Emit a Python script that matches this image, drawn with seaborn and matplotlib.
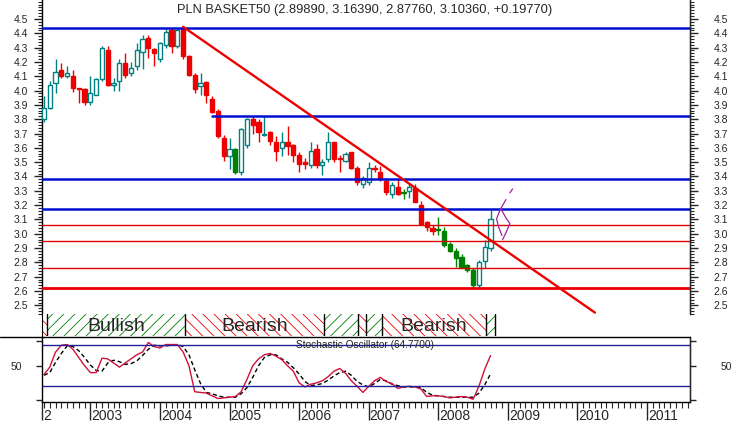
import matplotlib
matplotlib.use("Agg")
import matplotlib.pyplot as plt
from matplotlib.lines import Line2D
import numpy as np
import pandas as pd
import seaborn as sns

# monthly candles, May 2002 .. Oct 2008 (index 0 = May 2002)
opens = [3.80, 3.88, 4.05, 4.14, 4.10, 4.10, 4.02, 4.01, 3.92, 3.97,
         4.08, 4.28, 4.04, 4.07, 4.19, 4.12, 4.17, 4.27, 4.37, 4.29,
         4.22, 4.32, 4.42, 4.31, 4.44, 4.24, 4.11, 4.03, 4.06, 3.94,
         3.86, 3.67, 3.54, 3.59, 3.43, 3.62, 3.80, 3.78, 3.69, 3.71,
         3.64, 3.60, 3.64, 3.62, 3.55, 3.50, 3.48, 3.59, 3.48, 3.52,
         3.64, 3.53, 3.51, 3.57, 3.46, 3.35, 3.36, 3.46, 3.43, 3.37,
         3.28, 3.33, 3.29, 3.30, 3.32, 3.20, 3.08, 3.04, 3.03, 3.02,
         2.93, 2.88, 2.84, 2.78, 2.75, 2.64, 2.81, 2.8989]
highs = [3.96, 4.07, 4.22, 4.19, 4.17, 4.14, 4.02, 4.02, 4.10, 4.09,
         4.31, 4.31, 4.09, 4.22, 4.26, 4.20, 4.33, 4.39, 4.39, 4.30,
         4.34, 4.43, 4.44, 4.44, 4.45, 4.25, 4.12, 4.12, 4.07, 3.96,
         3.87, 3.69, 3.67, 3.60, 3.74, 3.81, 3.82, 3.80, 3.82, 3.72,
         3.68, 3.71, 3.75, 3.63, 3.57, 3.53, 3.64, 3.63, 3.52, 3.71,
         3.64, 3.55, 3.57, 3.57, 3.47, 3.40, 3.50, 3.48, 3.47, 3.39,
         3.36, 3.38, 3.31, 3.35, 3.35, 3.23, 3.09, 3.06, 3.12, 3.05,
         2.94, 2.90, 2.86, 2.79, 2.76, 2.82, 2.96, 3.1639]
lows = [3.78, 3.87, 3.98, 4.09, 4.09, 3.99, 3.91, 3.90, 3.90, 3.97,
        4.07, 4.03, 4.00, 4.00, 4.09, 4.10, 4.14, 4.15, 4.23, 4.17,
        4.20, 4.30, 4.26, 4.30, 4.22, 4.10, 3.98, 3.97, 3.91, 3.84,
        3.67, 3.51, 3.45, 3.42, 3.41, 3.60, 3.70, 3.64, 3.68, 3.62,
        3.51, 3.54, 3.55, 3.50, 3.43, 3.45, 3.46, 3.46, 3.41, 3.50,
        3.50, 3.43, 3.50, 3.45, 3.34, 3.32, 3.34, 3.43, 3.37, 3.27,
        3.25, 3.27, 3.24, 3.25, 3.22, 3.07, 3.02, 2.99, 2.99, 2.91,
        2.87, 2.77, 2.76, 2.73, 2.62, 2.62, 2.76, 2.8776]
closes = [3.88, 4.04, 4.13, 4.10, 4.12, 4.02, 4.01, 3.92, 3.98, 4.08,
          4.30, 4.04, 4.05, 4.19, 4.11, 4.16, 4.28, 4.36, 4.30, 4.26,
          4.33, 4.41, 4.31, 4.42, 4.24, 4.11, 4.01, 4.05, 3.97, 3.85,
          3.68, 3.54, 3.59, 3.43, 3.73, 3.80, 3.76, 3.71, 3.70, 3.65,
          3.58, 3.64, 3.61, 3.55, 3.49, 3.49, 3.58, 3.48, 3.50, 3.64,
          3.52, 3.52, 3.56, 3.46, 3.36, 3.39, 3.46, 3.45, 3.39, 3.29,
          3.34, 3.28, 3.285, 3.33, 3.22, 3.07, 3.05, 3.02, 3.025, 2.92,
          2.88, 2.83, 2.77, 2.75, 2.64, 2.80, 2.91, 3.1036]
# u = hollow teal, r = red, g = green
kinds = ("uuururrruu" "uruuruuurr" "uururrrurr" "rruguurrur" "rurrrruruu"
         "rrurruurrr" "urgurrrrgg" "ggggguuu")

stoch_k = [37, 48, 70, 80, 81, 74, 62, 50, 40, 40,
           61, 60, 54, 48, 54, 60, 66, 70, 84, 78,
           76, 81, 81, 81, 70, 50, 12, 11, 10, 6,
           2, 3, 4, 5, 12, 30, 50, 60, 66, 68,
           64, 59, 50, 42, 25, 19, 23, 25, 28, 34,
           42, 46, 39, 28, 20, 11, 20, 28, 33, 27,
           24, 17, 19, 20, 19, 16, 5, 6, 6, 5,
           3, 4, 5, 4, 1, 20, 45, 64.77]
stoch_d = [36, 40, 55, 68, 79, 78, 72, 62, 51, 43,
           42, 54, 58, 56, 52, 53, 57, 65, 74, 80,
           79, 79, 80, 81, 78, 66, 44, 24, 11, 9,
           6, 4, 4, 4, 9, 18, 33, 50, 62, 66,
           66, 60, 55, 47, 38, 27, 21, 22, 24, 29,
           35, 40, 42, 36, 27, 22, 19, 24, 30, 28,
           23, 21, 19, 19, 19, 18, 11, 7, 6, 5,
           4, 4, 4, 4, 4, 10, 22, 38]

years = ["2003", "2004", "2005", "2006", "2007", "2008", "2009", "2010", "2011"]
year_idx = [8, 20, 32, 44, 56, 68, 80, 92, 104]

blue_levels = [4.44, 3.38, 3.17]
blue_partial = (29, 3.82)
red_thin_levels = [3.06, 2.95, 2.76]
red_thick_level = 2.62
trend_x = [24, 95]
trend_y = [4.445, 2.45]

regime_names = ["", "Bullish", "Bearish", "", "", "", "Bearish", ""]
regime_bull = [False, True, False, True, False, True, False, True]
regime_edges = [-0.34, 0.52, 24.3, 48.3, 54.1, 55.5, 58.3, 76.2, 77.8]

purple_a_x = [79.66, 78.62, 78.05, 78.39, 78.97]
purple_a_y = [3.239, 3.164, 3.104, 3.048, 2.988]
purple_b_x = [78.79, 79.66, 80.34, 79.66, 79.09]
purple_b_y = [3.174, 3.111, 3.071, 3.007, 2.960]
purple_c_x = [80.8, 80.34]
purple_c_y = [3.313, 3.285]

TEAL = "#008080"
RED = "#ee0000"
GREEN = "#008000"
BLUE = "#0010d0"
NAVY = "#22229a"

sns.set_style("white")
plt.rcParams["font.family"] = ["Liberation Sans", "DejaVu Sans"]
plt.rcParams["hatch.linewidth"] = 0.6

W, H = 732, 423
fig = plt.figure(figsize=(W / 100, H / 100), dpi=100)


def box(x0, y0, x1, y1):
    return [x0 / W, 1 - y1 / H, (x1 - x0) / W, (y1 - y0) / H]


ax = fig.add_axes(box(42, 0, 690, 314))
axh = fig.add_axes(box(42, 314, 690, 336))
axs = fig.add_axes(box(42, 337, 690, 402))
xlim = (-0.34, 111.4)
for a in (ax, axh, axs):
    a.set_xlim(*xlim)
    a.set_facecolor("white")

# ---- price panel
months = np.arange(len(opens))
colmap = {"u": TEAL, "r": RED, "g": GREEN}
for i in months:
    o, h, l, c, k = opens[i], highs[i], lows[i], closes[i], kinds[i]
    col = colmap[k]
    ax.vlines(i, l, h, color=col, lw=1, zorder=3)
    body = max(abs(c - o), 0.006)
    ax.bar(i, body, bottom=min(o, c), width=0.72,
           facecolor="white" if k == "u" else col, edgecolor=col, lw=1, zorder=4)

for lv in blue_levels:
    ax.axhline(lv, color=BLUE, lw=1.8, zorder=5)
ax.plot([blue_partial[0], xlim[1]], [blue_partial[1]] * 2, color=BLUE, lw=1.8, zorder=5)
for lv in red_thin_levels:
    ax.axhline(lv, color="#dd0000", lw=1, zorder=5)
ax.axhline(red_thick_level, color=RED, lw=2.0, zorder=5)
ax.plot(trend_x, trend_y, color=RED, lw=1.7, zorder=6)
for px, py in ((purple_a_x, purple_a_y), (purple_b_x, purple_b_y), (purple_c_x, purple_c_y)):
    ax.plot(px, py, color="#a020a0", lw=0.9, zorder=6)

price_ticks = np.round(np.arange(2.5, 4.51, 0.1), 1)
price_labels = [f"{v:.1f}" for v in price_ticks]
ax.set_ylim(2.444, 4.632)
ax.set_yticks(price_ticks)
ax.set_yticklabels(price_labels)
ax.set_yticks(np.arange(2.44, 4.64, 0.02), minor=True)
for s in ("top", "bottom"):
    ax.spines[s].set_visible(False)
for s in ("left", "right"):
    ax.spines[s].set_color("black")
    ax.spines[s].set_linewidth(1)
ax.tick_params(axis="x", which="both", bottom=False, labelbottom=False)
ax.tick_params(axis="y", which="major", left=True, length=6, width=1, pad=4, labelsize=7.5, direction="out")
ax.tick_params(axis="y", which="minor", left=True, length=3, width=0.8, direction="out")

axr = ax.twinx()
axr.set_ylim(ax.get_ylim())
axr.set_yticks(price_ticks)
axr.set_yticklabels(price_labels)
axr.set_yticks(np.arange(2.44, 4.64, 0.02), minor=True)
for s in ("top", "bottom", "left"):
    axr.spines[s].set_visible(False)
axr.tick_params(axis="y", which="major", right=True, length=6, width=1, pad=11, labelsize=7.5, direction="out")
axr.tick_params(axis="y", which="minor", right=True, length=3, width=0.8, direction="out")

fig.text(365 / W, 1 - 10 / H,
         "PLN BASKET50 (2.89890, 3.16390, 2.87760, 3.10360, +0.19770)",
         ha="center", va="center", fontsize=9.3)

# ---- regime panel
axh.set_ylim(0, 1)
for j in range(len(regime_bull)):
    e0, e1 = regime_edges[j], regime_edges[j + 1]
    bull = regime_bull[j]
    axh.axvspan(e0, e1, facecolor="white", edgecolor=GREEN if bull else RED,
                hatch="///" if bull else "\\\\\\", lw=0)
    if regime_names[j]:
        axh.text((e0 + e1) / 2, 0.42, regime_names[j], ha="center", va="center", fontsize=14)
for e in regime_edges[1:]:
    axh.axvline(e, color="black", lw=1)
for s in ("top", "bottom", "right"):
    axh.spines[s].set_visible(False)
axh.spines["left"].set_color("black")
axh.set_xticks([])
axh.set_yticks([])
fig.add_artist(Line2D([0, 690 / W], [1 - 336.5 / H] * 2, color="black", lw=1))

# ---- stochastic panel
sns.lineplot(x=months, y=stoch_d, ax=axs, color="black", lw=1, linestyle=(0, (3, 2)))
sns.lineplot(x=months, y=stoch_k, ax=axs, color="#d0103a", lw=1)
axs.axhline(80, color=NAVY, lw=1)
axs.axhline(20, color=NAVY, lw=1)
axs.text(43.4, 80, "Stochastic Oscillator (64.7700)", ha="left", va="center",
         fontsize=7.3, color="#222222")
axs.set_ylim(-3, 92)
axs.set_yticks([0, 50, 86])
axs.set_yticklabels(["", "50", ""])
axs.spines["top"].set_visible(False)
for s in ("left", "right", "bottom"):
    axs.spines[s].set_color("black")
    axs.spines[s].set_linewidth(1)
axs.tick_params(axis="y", left=True, length=4, width=1, pad=10, labelsize=7.5, direction="out")
axs.set_xticks([xlim[0]] + year_idx)
axs.set_xticklabels([])
axs.set_xticks(np.arange(0, 112), minor=True)
axs.tick_params(axis="x", which="major", bottom=True, length=13, width=1, direction="out")
axs.tick_params(axis="x", which="minor", bottom=True, length=4, width=0.8, direction="out")
axs.set_xlabel("")
axs.set_ylabel("")
tr = axs.get_xaxis_transform()
for yi, lab in zip(year_idx, years):
    axs.text(yi + 0.15, -0.1, lab, transform=tr, ha="left", va="top", fontsize=10,
             clip_on=False)
axs.text(xlim[0] + 0.15, -0.1, "2", transform=tr, ha="left", va="top", fontsize=10,
         clip_on=False)

axsr = axs.twinx()
axsr.set_ylim(axs.get_ylim())
axsr.set_yticks([0, 50, 86])
axsr.set_yticklabels(["", "50", ""])
for s in ("top", "bottom", "left"):
    axsr.spines[s].set_visible(False)
axsr.tick_params(axis="y", right=True, length=4, width=1, pad=18, labelsize=7.5, direction="out")

fig.savefig("out.png", dpi=100)
